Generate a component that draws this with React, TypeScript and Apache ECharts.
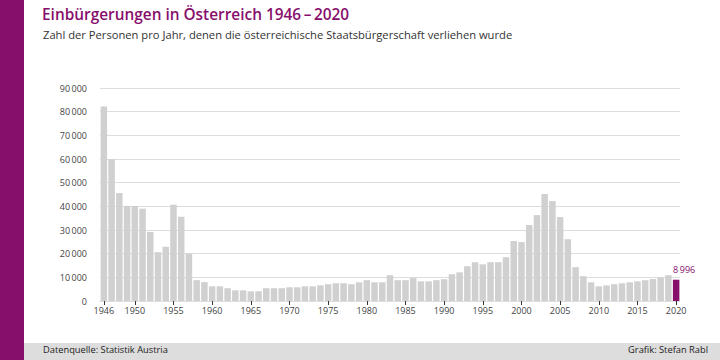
import React, { useEffect, useRef } from "react";
import * as echarts from "echarts";

const years: string[] = [];
for (let y = 1946; y <= 2020; y++) years.push(String(y));

const values: number[] = [
  82200, 59900, 45600, 40100, 40100, 39000, 29200, 20600, 22900, 40700,
  35600, 20000, 8800, 8000, 6200, 6200, 5400, 4500, 4500, 4100,
  4100, 5400, 5400, 5400, 5800, 5800, 6200, 6200, 6600, 7100,
  7500, 7500, 7100, 7900, 8800, 7900, 7900, 10900, 8800, 8800,
  9700, 8300, 8300, 8800, 9200, 11300, 12100, 14700, 16400, 15500,
  16400, 16400, 18500, 25300, 24900, 32100, 36300, 45200, 42200, 35500,
  26100, 14300, 10500, 7900, 6200, 6600, 7100, 7500, 7900, 8300,
  8800, 9300, 10000, 10900, 8996,
];

const highlightYear = "2020";
const title = "Einbürgerungen in Österreich 1946\u2009–\u20092020";
const subtitle = "Zahl der Personen pro Jahr, denen die österreichische Staatsbürgerschaft verliehen wurde";
const sourceText = "Datenquelle: Statistik Austria";
const creditText = "Grafik: Stefan Rabl";

const PURPLE = "#870f6c";
const GREY_BAR = "#d0d0d0";

const fmt = (v: number) => {
  const s = String(Math.round(v));
  return s.replace(/\B(?=(\d{3})+(?!\d))/g, "\u2009");
};

const showYear = (idx: number) => {
  const y = Number(years[idx]);
  return y === 1946 || y % 5 === 0;
};

export default function App() {
  const ref = useRef<HTMLDivElement>(null);
  useEffect(() => {
    if (!ref.current) return;
    const chart = echarts.init(ref.current, undefined, { renderer: "svg" });
    const font = "'Open Sans', sans-serif";
    chart.setOption({
      animation: false,
      backgroundColor: "#ffffff",
      textStyle: { fontFamily: font },
      grid: { left: 100, right: 40, top: 88, bottom: 59, containLabel: false },
      xAxis: {
        type: "category",
        data: years,
        boundaryGap: true,
        axisLine: { show: true, lineStyle: { color: "#dddddd" } },
        axisTick: {
          show: true,
          alignWithLabel: true,
          length: 4,
          interval: (i: number) => showYear(i),
          lineStyle: { color: "#333333" },
        },
        axisLabel: {
          interval: (i: number) => showYear(i),
          fontSize: 9,
          color: "#444444",
          margin: 5,
          fontFamily: font,
        },
      },
      yAxis: {
        type: "value",
        min: 0,
        max: 90000,
        interval: 10000,
        axisLine: { show: false },
        axisTick: { show: false },
        splitLine: { lineStyle: { color: "#dddddd", width: 1 } },
        axisLabel: {
          formatter: (v: number) => fmt(v),
          fontSize: 9,
          color: "#444444",
          margin: 13,
          fontFamily: font,
        },
      },
      series: [
        {
          type: "bar",
          barCategoryGap: "16%",
          data: values.map((v, i) => {
            const hi = years[i] === highlightYear;
            return {
              value: v,
              itemStyle: { color: hi ? PURPLE : GREY_BAR },
              label: hi
                ? {
                    show: true,
                    position: "top",
                    formatter: () => fmt(v),
                    color: PURPLE,
                    fontSize: 9,
                    fontFamily: font,
                    offset: [8, -1],
                  }
                : { show: false },
            };
          }),
        },
      ],
      graphic: [
        { type: "rect", left: 0, top: 0, shape: { width: 24, height: 360 }, style: { fill: PURPLE }, z: 10 },
        { type: "rect", left: 24, top: 343, shape: { width: 696, height: 17 }, style: { fill: "#dddddd" }, z: 10 },
        {
          type: "text",
          left: 42,
          top: 7,
          style: { text: title, fill: PURPLE, font: `600 15.4px ${font}` },
          z: 11,
        },
        {
          type: "text",
          left: 43,
          top: 29,
          style: { text: subtitle, fill: "#333333", font: `11.2px ${font}` },
          z: 11,
        },
        {
          type: "text",
          left: 43,
          top: 345,
          style: { text: sourceText, fill: "#222222", font: `9.3px ${font}` },
          z: 11,
        },
        {
          type: "text",
          right: 12,
          top: 345,
          style: { text: creditText, fill: "#222222", font: `9.3px ${font}` },
          z: 11,
        },
      ],
    });
    return () => chart.dispose();
  }, []);
  return (
    <div
      ref={ref}
      style={{ position: "absolute", left: 0, top: 0, width: 720, height: 360 }}
    />
  );
}
